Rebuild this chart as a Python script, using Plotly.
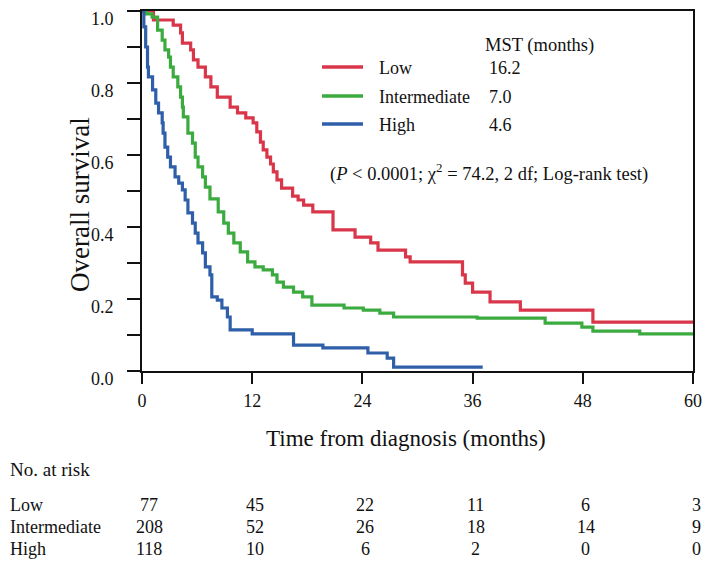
import plotly.graph_objects as go

# Kaplan-Meier step curves (months, survival)
low_t = [0, 1.25, 3.4, 4.2, 4.4, 5.3, 5.6, 6.1, 6.9, 7.5, 8.2, 9.6, 10.4, 11.3, 12.1, 12.5, 12.9, 13.2,
         13.6, 14.0, 14.3, 14.7, 15.2, 16.4, 17.0, 17.6, 18.6, 20.8, 23.2, 24.9, 25.7, 28.7, 29.2,
         34.9, 35.2, 36.0, 37.9, 41.2, 49.1, 60]
low_s = [1.0, 0.975, 0.961, 0.939, 0.911, 0.892, 0.864, 0.844, 0.817, 0.789, 0.761, 0.733, 0.717, 0.703,
         0.689, 0.664, 0.636, 0.614, 0.594, 0.575, 0.553, 0.531, 0.508, 0.486, 0.475, 0.461, 0.442,
         0.392, 0.372, 0.356, 0.336, 0.317, 0.303, 0.267, 0.244, 0.219, 0.192, 0.169, 0.136, 0.136]

int_t = [0, 0.5, 1.1, 1.7, 2.2, 2.5, 2.9, 3.1, 3.4, 3.9, 4.2, 4.4, 4.5, 5.0, 5.5, 5.8, 6.1, 6.6, 6.9,
         7.4, 8.3, 8.9, 9.4, 10.0, 10.7, 11.5, 12.3, 13.2, 14.2, 14.7, 15.4, 16.5, 17.5, 18.5, 22.0,
         24.1, 25.9, 27.4, 36.5, 43.9, 47.9, 49.1, 54.2, 60]
int_s = [1.0, 0.992, 0.983, 0.947, 0.919, 0.892, 0.872, 0.844, 0.817, 0.789, 0.761, 0.733, 0.706, 0.661,
         0.633, 0.594, 0.567, 0.539, 0.511, 0.478, 0.442, 0.411, 0.383, 0.356, 0.331, 0.303, 0.289,
         0.281, 0.267, 0.247, 0.233, 0.219, 0.206, 0.183, 0.175, 0.169, 0.161, 0.150, 0.147, 0.133,
         0.122, 0.111, 0.103, 0.103]

high_t = [0, 0.2, 0.4, 0.6, 0.7, 1.15, 1.5, 1.8, 2.2, 2.3, 2.5, 2.8, 3.1, 3.6, 4.0, 4.4, 4.7, 5.0, 5.5,
          5.8, 6.1, 6.6, 6.9, 7.4, 7.6, 8.2, 8.7, 9.3, 9.6, 12.0, 16.5, 19.7, 24.6, 26.7, 27.4, 37.1]
high_s = [1.0, 0.956, 0.9, 0.844, 0.817, 0.781, 0.744, 0.717, 0.689, 0.661, 0.622, 0.594, 0.567, 0.539,
          0.522, 0.503, 0.475, 0.439, 0.411, 0.383, 0.356, 0.328, 0.289, 0.267, 0.206, 0.197, 0.175,
          0.150, 0.114, 0.103, 0.072, 0.064, 0.05, 0.036, 0.011, 0.011]

groups = ["Low", "Intermediate", "High"]
mst = ["16.2", "7.0", "4.6"]
colors = ["#D9364A", "#3BAA3F", "#2E5FA8"]

risk_times = [0, 12, 24, 36, 48, 60]
risk_low = [77, 45, 22, 11, 6, 3]
risk_int = [208, 52, 26, 18, 14, 9]
risk_high = [118, 10, 6, 2, 0, 0]

FONT = "Liberation Serif, Times New Roman, serif"

fig = go.Figure()
for t, s, c, name in zip([low_t, int_t, high_t], [low_s, int_s, high_s], colors, groups):
    fig.add_trace(go.Scatter(x=t, y=s, mode="lines", line=dict(color=c, width=3.2, shape="hv"),
                             name=name, showlegend=False))

# page body has an 8px margin, so size the figure to fit inside the window
OFF = 8
W, H = 704, 558
L, T, pw, ph = 134, 3, 551, 360
R, B = W - L - pw, H - T - ph


def px(x):  # page pixel -> paper x
    return (x - OFF - L) / pw


def py(y):  # page pixel -> paper y
    return (OFF + T + ph - y) / ph


# legend block
fig.add_annotation(x=px(483), y=py(45), xref="paper", yref="paper", text="MST (months)",
                   showarrow=False, xanchor="left", yanchor="middle", font=dict(size=18.5))
for i, (g, m, c) in enumerate(zip(groups, mst, colors)):
    yy = [68, 97, 125][i]
    fig.add_shape(type="line", xref="paper", yref="paper", x0=px(322), x1=px(363),
                  y0=py(yy - 1), y1=py(yy - 1), line=dict(color=c, width=3.5))
    fig.add_annotation(x=px(377), y=py(yy), xref="paper", yref="paper", text=g, showarrow=False,
                       xanchor="left", yanchor="middle", font=dict(size=18))
    fig.add_annotation(x=px(487), y=py(yy), xref="paper", yref="paper", text=m, showarrow=False,
                       xanchor="left", yanchor="middle", font=dict(size=18))
fig.add_annotation(x=px(328), y=py(173), xref="paper", yref="paper",
                   text="(<i>P</i> &lt; 0.0001; χ<sup>2</sup> = 74.2, 2 df; Log-rank test)",
                   showarrow=False, xanchor="left", yanchor="middle", font=dict(size=18.5))

# axis titles
fig.add_annotation(x=px(80), y=py(205), xref="paper", yref="paper", text="Overall survival",
                   textangle=-90, showarrow=False, xanchor="center", yanchor="middle",
                   font=dict(size=27))
fig.add_annotation(x=px(406), y=py(438), xref="paper", yref="paper",
                   text="Time from diagnosis (months)", showarrow=False, xanchor="center",
                   yanchor="middle", font=dict(size=23))

# number at risk table
fig.add_annotation(x=px(8), y=py(469), xref="paper", yref="paper", text="No. at risk",
                   showarrow=False, xanchor="left", yanchor="middle", font=dict(size=19))
for row, name, yy in zip([risk_low, risk_int, risk_high], groups, [505, 527, 549]):
    fig.add_annotation(x=px(8), y=py(yy), xref="paper", yref="paper", text=name,
                       showarrow=False, xanchor="left", yanchor="middle", font=dict(size=18))
    for t, n in zip(risk_times, row):
        fig.add_annotation(x=t, y=py(yy), xref="x", yref="paper", text=str(n), showarrow=False,
                           xanchor="center", yanchor="middle", xshift=3 if t else 7,
                           font=dict(size=18))

fig.update_layout(
    width=W, height=H, margin=dict(l=L, r=R, t=T, b=B, autoexpand=False),
    plot_bgcolor="white", paper_bgcolor="white",
    font=dict(family=FONT, color="#111", size=18),
    showlegend=False,
)
fig.update_xaxes(range=[0, 60], tickvals=risk_times, ticks="outside", ticklen=11, tickwidth=2,
                 tickcolor="#111", showline=True, linecolor="#111", linewidth=2, mirror=True,
                 showgrid=False, zeroline=False, tickfont=dict(size=18), automargin=False,
                 ticklabelstandoff=1)
fig.update_yaxes(range=[0, 1], tickvals=[i / 10 for i in range(11)],
                 ticktext=["%.1f" % (i / 10) if i % 2 == 0 else "" for i in range(11)],
                 ticks="outside", ticklen=13, tickwidth=2, tickcolor="#111", showline=True,
                 linecolor="#111", linewidth=2, mirror=True, showgrid=False, zeroline=False,
                 tickfont=dict(size=18), ticklabelstandoff=10, ticklabelshift=8,
                 automargin=False)

fig.write_html("out.html")
